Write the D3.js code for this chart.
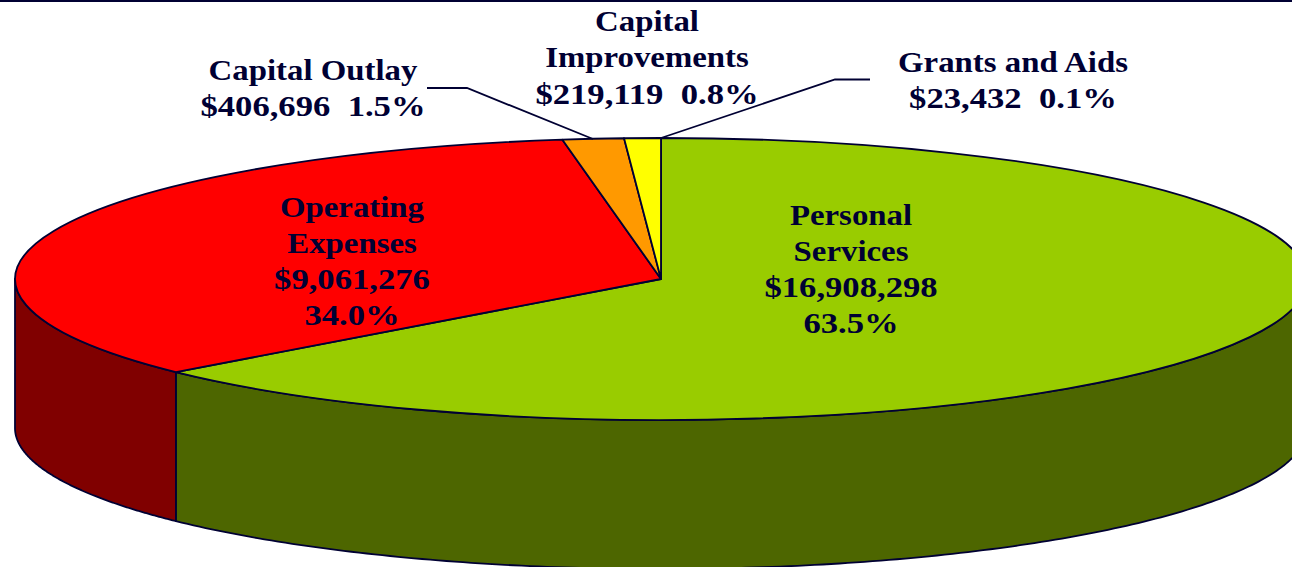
<!DOCTYPE html>
<html>
<head>
<meta charset="utf-8">
<script src="https://cdn.jsdelivr.net/npm/d3@7"></script>
<style>
  html, body { margin: 0; padding: 0; background: #fff; overflow: hidden; }
  svg { display: block; }
  text { font-family: "Liberation Serif", serif; font-weight: bold; font-size: 30px; fill: #000033; text-anchor: middle; white-space: pre; }
</style>
</head>
<body>
<script>
const categories = ["Personal Services", "Operating Expenses", "Capital Outlay", "Capital Improvements", "Grants and Aids"];
const values = [16908298, 9061276, 406696, 219119, 23432];
const dollars = ["$16,908,298", "$9,061,276", "$406,696", "$219,119", "$23,432"];
const percents = ["63.5%", "34.0%", "1.5%", "0.8%", "0.1%"];
const topColors = ["#99cc00", "#ff0000", "#ff9900", "#ffff00", "#ffff00"];
const sideColors = ["#4d6600", "#800000", "#804c00", "#808000", "#808000"];

const width = 1292, height = 567;
const cx = 661, cy = 279, rx = 646, ry = 141, depth = 149;
const ink = "#000033";

const svg = d3.select("body").append("svg")
    .attr("width", width)
    .attr("height", height);

// rule along the top edge
svg.append("rect")
    .attr("width", width)
    .attr("height", 2)
    .attr("fill", ink);

const pie = d3.pie().value(d => d).sort(null);
const arcs = pie(values);

const x = d3.scaleLinear().domain([-1, 1]).range([cx - rx, cx + rx]);
const y = d3.scaleLinear().domain([-1, 1]).range([cy - ry, cy + ry]);

// side wall, only the front half of the disc shows
const wall = d3.area()
    .x(a => x(Math.sin(a)))
    .y0(a => y(-Math.cos(a)))
    .y1(a => y(-Math.cos(a)) + depth);

arcs.forEach((d, i) => {
    const from = Math.max(d.startAngle, Math.PI / 2);
    const to = Math.min(d.endAngle, Math.PI * 3 / 2);
    if (to <= from) return;
    const steps = d3.range(0, 181).map(k => from + (to - from) * k / 180);
    svg.append("path")
        .attr("d", wall(steps))
        .attr("fill", sideColors[i])
        .attr("stroke", ink)
        .attr("stroke-width", 1.8)
        .attr("stroke-linejoin", "round");
});

// top face: the last two slices read as one yellow wedge in the source
const arc = d3.arc().innerRadius(0).outerRadius(rx);
const faces = arcs.slice(0, 3).concat([{ startAngle: arcs[3].startAngle, endAngle: arcs[4].endAngle, index: 3 }]);

svg.append("g")
    .attr("transform", `translate(${cx},${cy}) scale(1,${ry / rx})`)
    .selectAll("path")
    .data(faces)
    .join("path")
    .attr("d", arc)
    .attr("fill", d => topColors[d.index])
    .attr("stroke", ink)
    .attr("stroke-width", 1.8)
    .attr("stroke-linejoin", "round")
    .attr("vector-effect", "non-scaling-stroke");

// leader lines
const leaders = [
    [[427, 88], [467, 88], [593, 139]],
    [[870, 79.5], [835, 79.5], [661, 138]]
];
svg.selectAll(".leader")
    .data(leaders)
    .join("path")
    .attr("class", "leader")
    .attr("d", d3.line())
    .attr("fill", "none")
    .attr("stroke", ink)
    .attr("stroke-width", 1.8);

// labels, the source text is stretched sideways (figures more than words)
const labelLines = [
    ["Personal", "Services", dollars[0], percents[0]],
    ["Operating", "Expenses", dollars[1], percents[1]],
    [categories[2], `${dollars[2]}  ${percents[2]}`],
    ["Capital", "Improvements", `${dollars[3]}  ${percents[3]}`],
    [categories[4], `${dollars[4]}  ${percents[4]}`]
];
const labelAnchors = [[851, 224.5], [352, 216.5], [313, 80], [647, 31], [1013, 72]];
const lineStep = 36.3;
const stretch = s => /^[$\d]/.test(s) ? 1.155 : 1.095;

labelLines.forEach((lines, i) => {
    svg.append("g").selectAll("text")
        .data(lines)
        .join("text")
        .attr("transform", (d, k) => `translate(${labelAnchors[i][0]},${labelAnchors[i][1] + k * lineStep}) scale(${stretch(d)},1)`)
        .text(d => d);
});
</script>
</body>
</html>
